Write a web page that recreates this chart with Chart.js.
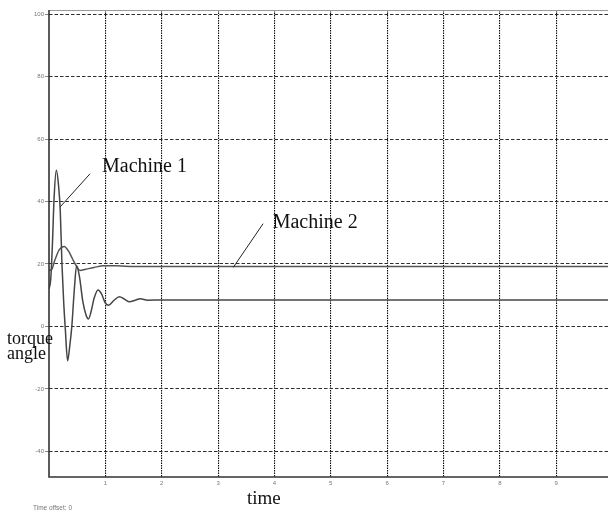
<!DOCTYPE html>
<html>
<head>
<meta charset="utf-8">
<script src="https://cdn.jsdelivr.net/npm/chart.js@4.4.1/dist/chart.umd.min.js"></script>
<style>
  html, body { margin: 0; padding: 0; background: #ffffff; }
  #wrap { width: 608px; height: 515px; position: relative; }
  canvas { display: block; }
</style>
</head>
<body>
<div id="wrap"><canvas id="c" width="608" height="515"></canvas></div>
<script>
// Time samples (s) and torque angle (deg) for each machine
const machine1Time  = [0, 0.03, 0.06, 0.09, 0.13, 0.17, 0.20, 0.23, 0.26, 0.29, 0.33, 0.37, 0.405, 0.45, 0.49, 0.54, 0.60, 0.66, 0.70, 0.75, 0.80, 0.87, 0.93, 1.00, 1.06, 1.15, 1.25, 1.34, 1.43, 1.53, 1.62, 1.75, 2.0, 10];
const machine1Angle = [12, 15, 26, 41, 50, 45, 37, 20, 8, -1, -11, -6, 0, 12, 19.4, 16, 8, 3.5, 2.4, 5, 9, 11.7, 10.5, 7.5, 6.8, 8.3, 9.5, 8.7, 7.9, 8.4, 8.9, 8.4, 8.5, 8.5];

const machine2Time  = [0, 0.04, 0.10, 0.18, 0.27, 0.35, 0.42, 0.49, 0.55, 0.65, 0.80, 0.97, 1.2, 1.5, 10];
const machine2Angle = [18, 18, 21, 24.5, 25.6, 24, 21.5, 19.2, 17.9, 18.3, 18.9, 19.4, 19.4, 19.2, 19.2];

// Axis ranges and tick steps
const xRange = [0, 9.92];
const yRange = [-48.2, 101.3];
const xStep = 1;
const yStep = 20;

// Callout labels: text anchor and leader line ends, in data units
const callouts = [
  { text: 'Machine 1', at: [0.94, 49.3], from: [0.73, 48.9], to: [0.20, 38.3] },
  { text: 'Machine 2', at: [3.97, 31.5], from: [3.80, 32.9], to: [3.27, 18.9] }
];

function toPoints(xs, ys) { return xs.map((x, i) => ({ x: x, y: ys[i] })); }

const frameAndNotes = {
  id: 'frameAndNotes',
  afterDatasetsDraw(chart) {
    const ctx = chart.ctx;
    const a = chart.chartArea;
    const xs = chart.scales.x, ys = chart.scales.y;
    ctx.save();
    // plot frame: solid left and bottom axes, light top rule
    ctx.setLineDash([]);
    ctx.strokeStyle = '#9a9a9a';
    ctx.lineWidth = 1.2;
    ctx.beginPath();
    ctx.moveTo(a.left, a.top + 0.5); ctx.lineTo(a.right, a.top + 0.5);
    ctx.stroke();
    ctx.strokeStyle = '#333';
    ctx.lineWidth = 1.6;
    ctx.beginPath();
    ctx.moveTo(a.left, a.top); ctx.lineTo(a.left, a.bottom); ctx.lineTo(a.right, a.bottom);
    ctx.stroke();

    // callouts
    ctx.strokeStyle = '#222';
    ctx.lineWidth = 1;
    ctx.fillStyle = '#111';
    ctx.font = '20px "Liberation Serif", "Times New Roman", serif';
    ctx.textBaseline = 'alphabetic';
    ctx.textAlign = 'left';
    callouts.forEach(c => {
      ctx.beginPath();
      ctx.moveTo(xs.getPixelForValue(c.from[0]), ys.getPixelForValue(c.from[1]));
      ctx.lineTo(xs.getPixelForValue(c.to[0]), ys.getPixelForValue(c.to[1]));
      ctx.stroke();
      ctx.fillText(c.text, xs.getPixelForValue(c.at[0]), ys.getPixelForValue(c.at[1]));
    });

    // axis captions
    ctx.font = '18px "Liberation Serif", "Times New Roman", serif';
    ctx.fillText('torque', 7, 344);
    ctx.fillText('angle', 7, 359);
    ctx.font = '19px "Liberation Serif", "Times New Roman", serif';
    ctx.fillText('time', 247, 504);
    ctx.font = '6.5px "Liberation Sans", Arial, sans-serif';
    ctx.fillStyle = '#777';
    ctx.fillText('Time offset: 0', 33, 510);
    ctx.restore();
  }
};

const tickFont = { family: '"Liberation Sans", Arial, sans-serif', size: 6 };

new Chart(document.getElementById('c'), {
  type: 'line',
  data: {
    datasets: [
      {
        label: 'Machine 1',
        data: toPoints(machine1Time, machine1Angle),
        borderColor: '#454545',
        borderWidth: 1.5,
        pointRadius: 0,
        cubicInterpolationMode: 'monotone',
        fill: false
      },
      {
        label: 'Machine 2',
        data: toPoints(machine2Time, machine2Angle),
        borderColor: '#555555',
        borderWidth: 1.5,
        pointRadius: 0,
        cubicInterpolationMode: 'monotone',
        fill: false
      }
    ]
  },
  options: {
    responsive: false,
    devicePixelRatio: 1,
    animation: false,
    layout: { padding: { top: 10, left: 0, right: 0, bottom: 0 } },
    plugins: { legend: { display: false }, tooltip: { enabled: false } },
    scales: {
      x: {
        type: 'linear',
        min: xRange[0],
        max: xRange[1],
        afterFit(scale) { scale.height = 38; },
        ticks: {
          stepSize: xStep,
          includeBounds: false,
          maxRotation: 0,
          autoSkip: false,
          padding: 3,
          color: '#777',
          font: tickFont,
          callback: v => (v === 0 ? '' : String(v))
        },
        grid: {
          color: ctx => (ctx.tick && ctx.tick.value === 0 ? 'rgba(0,0,0,0)' : '#0a0a0a'),
          lineWidth: 1.1,
          drawTicks: false
        },
        border: { display: false, dash: [1.5, 1] }
      },
      y: {
        type: 'linear',
        min: yRange[0],
        max: yRange[1],
        afterFit(scale) { scale.width = 49; },
        ticks: {
          stepSize: yStep,
          includeBounds: false,
          padding: 1,
          color: '#777',
          font: tickFont
        },
        grid: {
          color: '#2e2e2e',
          lineWidth: 1,
          tickLength: 4,
          tickColor: '#888'
        },
        border: { display: false, dash: [3.5, 2] }
      }
    }
  },
  plugins: [frameAndNotes]
});
</script>
</body>
</html>
